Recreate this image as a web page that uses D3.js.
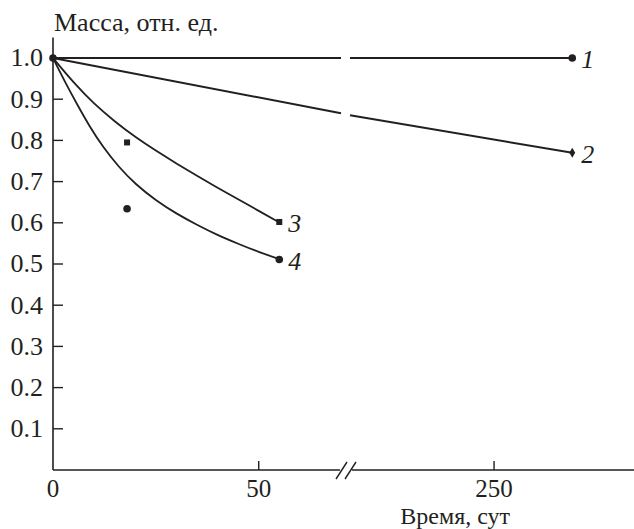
<!DOCTYPE html>
<html>
<head>
<meta charset="utf-8">
<script src="https://cdn.jsdelivr.net/npm/d3@7"></script>
<style>
  body { margin: 0; background: #fff; }
</style>
</head>
<body>
<div id="chart"></div>
<script>
// values
var yTicks = [0.1, 0.2, 0.3, 0.4, 0.5, 0.6, 0.7, 0.8, 0.9, 1.0]
var xTicks = [0, 50, 250]

// 1 and 2 : long run (axis is broken between 70 and 215 days)
var s1 = [[0, 1.0], [70, 1.0], [215, 1.0], [269, 1.0]]
var s2 = [[0, 1.0], [70, 0.866], [215, 0.861], [269, 0.770]]

// 3 and 4 : fitted curves, read at several points
var s3curve = [[0, 1.0], [5, 0.940], [10, 0.888], [15, 0.846], [20, 0.808], [25, 0.775],
  [30, 0.744], [35, 0.714], [40, 0.685], [45, 0.657], [50, 0.629], [55, 0.601]]
var s4curve = [[0, 1.0], [3, 0.940], [6, 0.885], [9, 0.832], [12, 0.786], [16, 0.735],
  [20, 0.694], [25, 0.654], [30, 0.622], [35, 0.595], [40, 0.570], [45, 0.549],
  [50, 0.529], [55, 0.512]]

// measured points
var s1pts = [[0, 1.0], [269, 1.0]]
var s2pts = [[269, 0.770]]
var s3pts = [[18, 0.795], [55, 0.602]]
var s4pts = [[18, 0.634], [55, 0.511]]

var labels = [
  {text: "1", t: 269, v: 1.0},
  {text: "2", t: 269, v: 0.770},
  {text: "3", t: 55, v: 0.602},
  {text: "4", t: 55, v: 0.511}
]

var breakLo = 70, breakHi = 215

var width = 634, height = 529
var svg = d3.select("#chart").append("svg").attr("width", width).attr("height", height)
  .style("font-family", "'Liberation Serif', 'Times New Roman', serif")

// broken time axis: two linear pieces
var x = d3.scaleLinear().domain([0, breakLo, breakHi, 284]).range([53, 341, 350, 634])
var y = d3.scaleLinear().domain([0, 1.0]).range([470, 58])

var ink = "#231f20"
var fs = "26px"

// y axis
svg.append("line").attr("x1", x(0)).attr("x2", x(0)).attr("y1", y(0)).attr("y2", y(1.05))
  .attr("stroke", ink).attr("stroke-width", 1.6)
svg.selectAll(".ytick").data(yTicks).enter().append("line")
  .attr("x1", x(0)).attr("x2", x(0) + 10)
  .attr("y1", function(d){return y(d)}).attr("y2", function(d){return y(d)})
  .attr("stroke", ink).attr("stroke-width", 1.4)
svg.selectAll(".ylab").data(yTicks).enter().append("text")
  .text(function(d){return d.toFixed(1)})
  .attr("x", 43).attr("y", function(d){return y(d)}).attr("dy", "0.32em")
  .attr("text-anchor", "end").attr("fill", ink).style("font-size", fs)

// x axis, with gap and break marks
svg.append("line").attr("x1", x(0)).attr("x2", 340).attr("y1", y(0)).attr("y2", y(0))
  .attr("stroke", ink).attr("stroke-width", 1.6)
svg.append("line").attr("x1", 352).attr("x2", width).attr("y1", y(0)).attr("y2", y(0))
  .attr("stroke", ink).attr("stroke-width", 1.6)
;[336, 345].forEach(function(bx){
  svg.append("line").attr("x1", bx).attr("y1", y(0) + 9).attr("x2", bx + 11).attr("y2", y(0) - 8)
    .attr("stroke", ink).attr("stroke-width", 1.4)
})
svg.selectAll(".xtick").data(xTicks.slice(1)).enter().append("line")
  .attr("x1", function(d){return x(d)}).attr("x2", function(d){return x(d)})
  .attr("y1", y(0)).attr("y2", y(0) - 9)
  .attr("stroke", ink).attr("stroke-width", 1.4)
svg.selectAll(".xlab").data(xTicks).enter().append("text")
  .text(function(d){return d})
  .attr("x", function(d){return x(d)}).attr("y", 497)
  .attr("text-anchor", "middle").attr("fill", ink).style("font-size", "25px")

// axis titles
svg.append("text").text("Масса, отн. ед.").attr("x", 54).attr("y", 31)
  .attr("fill", ink).style("font-size", fs)
svg.append("text").text("Время, сут").attr("x", 510).attr("y", 524)
  .attr("text-anchor", "end").attr("fill", ink).style("font-size", "24px")

// lines
var line = d3.line().x(function(d){return x(d[0])}).y(function(d){return y(d[1])})

function split(pts) {
  var a = pts.filter(function(d){return d[0] <= breakLo})
  var b = pts.filter(function(d){return d[0] >= breakHi})
  return [a, b]
}
split(s1).concat(split(s2)).forEach(function(seg){
  svg.append("path").attr("d", line(seg)).attr("fill", "none")
    .attr("stroke", ink).attr("stroke-width", 2)
})

var smooth = d3.line().curve(d3.curveBasis)
  .x(function(d){return x(d[0])}).y(function(d){return y(d[1])})
;[s3curve, s4curve].forEach(function(c){
  svg.append("path").attr("d", smooth(c)).attr("fill", "none")
    .attr("stroke", ink).attr("stroke-width", 1.8)
})

// markers
svg.selectAll(".c1").data(s1pts.concat(s4pts)).enter().append("circle")
  .attr("cx", function(d){return x(d[0])}).attr("cy", function(d){return y(d[1])})
  .attr("r", 3.8).attr("fill", ink)
svg.selectAll(".sq").data(s3pts).enter().append("rect")
  .attr("x", function(d){return x(d[0]) - 3}).attr("y", function(d){return y(d[1]) - 3})
  .attr("width", 6).attr("height", 6).attr("fill", ink)
svg.selectAll(".dm").data(s2pts).enter().append("path")
  .attr("d", d3.symbol().type(d3.symbolDiamond).size(30))
  .attr("transform", function(d){return "translate(" + x(d[0]) + "," + y(d[1]) + ")"})
  .attr("fill", ink)

// series numbers
svg.selectAll(".lab").data(labels).enter().append("text")
  .text(function(d){return d.text})
  .attr("x", function(d){return x(d.t) + 9}).attr("y", function(d){return y(d.v)})
  .attr("dy", "0.4em").attr("fill", ink)
  .style("font-size", fs).style("font-style", "italic")
</script>
</body>
</html>
